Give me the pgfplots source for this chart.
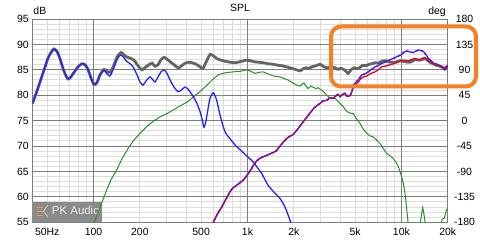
\documentclass[border=0pt]{standalone}
\usepackage{fontspec}
\setmainfont{Liberation Sans}
\usepackage{pgfplots}
\usepackage{pgfplotstable}
\pgfplotsset{compat=1.18}
\definecolor{gmaj}{RGB}{125,125,125}
\definecolor{gmin}{RGB}{220,220,220}
\definecolor{sumgray}{RGB}{100,100,100}
\definecolor{wblue}{RGB}{35,35,250}
\definecolor{tgreen}{RGB}{40,145,40}
\definecolor{pred}{RGB}{230,0,40}
\definecolor{pblue}{RGB}{40,40,235}
\definecolor{ppurple}{RGB}{95,30,210}
\definecolor{annor}{RGB}{245,128,38}

\pgfplotstableread{
f db
40.1 78.4
42.3 80.3
44.9 82.6
47.7 85.0
50.6 87.3
52.9 88.4
55.3 89.1
57.9 88.6
60.5 87.2
63.3 85.3
66.2 83.8
68.3 83.2
70.3 83.4
74.7 84.5
79.3 85.6
84.1 86.2
88.0 86.0
92.0 85.1
96.3 83.4
100.7 82.1
105.3 82.5
110.1 84.0
116.9 85.1
122.3 84.7
127.9 84.5
133.8 85.5
142.1 87.5
150.8 88.4
162.5 87.6
172.6 87.3
183.2 86.9
194.5 85.8
206.5 85.0
219.2 85.6
229.3 86.0
239.8 86.3
250.8 85.7
262.3 86.0
274.4 87.0
287.0 87.45
300.2 87.1
314.0 86.6
333.4 86.0
353.9 85.4
370.2 85.7
392.9 86.3
417.1 86.5
436.3 86.4
463.2 86.1
491.7 85.6
514.3 85.3
537.9 86.5
571.1 88.0
597.3 87.8
634.2 87.2
673.3 86.9
714.8 86.7
770.4 86.5
830.3 86.4
894.7 86.6
978.7 86.9
1039 86.8
1103 86.6
1171 86.5
1262 86.4
1360 86.2
1466 86.1
1580 85.9
1677 85.8
1780 85.6
1890 85.4
2037 85.1
2196 84.8
2296 85.2
2402 85.4
2512 85.3
2627 85.6
2789 85.8
2961 86.1
3097 85.7
3288 85.4
3491 85.5
3706 85.4
3877 85.1
4055 85.3
4304 84.9
4502 84.3
4709 85.0
4925 85.4
5151 85.2
5388 85.5
5635 85.9
5894 85.8
6164 86.1
6447 86.2
6743 86.4
7052 86.3
7487 86.7
7949 86.8
8440 86.5
9095 86.5
9801 86.8
10563 86.6
11383 86.5
12266 87.0
13218 86.9
14245 87.2
15350 86.5
16542 86.0
17828 85.7
19212 85.3
20000 85.8
}\sumtab

\pgfplotstableread{
f db
40.1 78.4
42.3 80.3
44.9 82.6
47.7 85.0
50.6 87.3
52.9 88.4
55.3 89.1
57.9 88.6
60.5 87.2
63.3 85.3
66.2 83.8
68.3 83.2
70.3 83.4
74.7 84.5
79.3 85.6
84.1 86.2
88.0 86.0
92.0 85.1
96.3 83.4
100.7 82.1
105.3 82.5
110.1 84.0
116.9 84.9
122.3 84.2
127.9 83.8
133.8 85.0
142.1 87.0
148.6 87.9
155.4 87.6
162.5 86.8
172.6 86.2
180.5 85.6
191.6 84.0
200.4 82.6
209.6 82.0
219.2 82.8
232.7 83.6
243.4 83.0
250.8 82.6
262.3 83.6
274.4 84.6
287.0 85.0
300.2 84.3
314.0 83.0
333.4 81.6
353.9 80.7
370.2 81.0
392.9 81.6
411.0 81.2
429.8 80.4
449.5 79.5
469.0 78.4
491.7 76.8
506.7 75.3
522.0 73.7
537.9 75.0
554.2 77.3
571.1 79.4
600.0 80.5
631.3 79.0
663.3 76.1
714.8 72.8
782.0 71.2
842.8 70.0
894.7 69.3
978.7 68.2
1087 66.9
1171 65.6
1243 64.5
1360 62.3
1511 60.7
1628 59.7
1754 58.0
1890 55.4
1977 53.5
}\wooftab

\pgfplotstableread{
f db
95.0 51.8
101.1 55.0
110.1 57.9
121.8 61.4
129.9 63.4
141.4 65.3
153.1 67.5
168.2 69.6
183.2 71.2
200.4 72.5
216.0 73.5
232.7 74.4
250.8 75.1
270.3 75.75
300.2 76.4
329.9 77.1
364.7 77.9
403.0 78.6
442.9 79.6
491.7 80.7
537.9 81.8
600.0 83.2
653.4 84.1
714.8 84.4
805.8 84.6
894.7 84.7
993.4 85.0
1055 84.7
1120 84.3
1189 84.5
1262 84.6
1360 84.2
1466 83.8
1628 83.6
1728 83.3
1834 83.0
1948 82.5
2090 82.0
2196 81.8
2262 82.2
2331 82.4
2402 81.8
2475 81.3
2588 81.8
2667 81.6
2789 81.3
2873 81.5
2961 81.2
3097 80.8
3273 80.0
3439 79.4
3706 79.4
3877 78.8
3995 78.4
4178 77.8
4415 76.8
4639 76.5
4874 76.4
5075 75.5
5388 74.45
5635 73.4
5956 72.5
6257 72.0
6573 71.8
6845 71.3
7267 70.5
7600 69.6
8033 68.5
8440 68.1
8827 67.6
9329 66.6
9656 65.6
10054 63.9
10328 62.5
10563 60.7
10883 57.0
11130 54.0
11383 48
12829 48
13218 54.5
13518 56.5
13763 57.9
14034 56.5
14352 54.5
14676 48
17828 48
18097 54.5
18400 55.6
19000 55.8
19650 57.5
20000 57.7
}\tweettab

\pgfplotstableread{
f deg
590 -186
600.0 -180
634.2 -166.5
680.4 -153
725.6 -138.6
770.4 -126
805.8 -118.8
851.7 -114.3
894.7 -109.8
940.0 -105.3
978.7 -99
1013 -93.6
1055 -86.4
1092 -79.2
1148 -71.1
1206 -66.6
1268 -63.9
1340 -61.2
1438 -57.6
1533 -54
1628 -45
1710 -37.8
1834 -29.7
1986 -24.3
2131 -14.4
2307 -1.8
2475 9
2707 22.5
2961 30.6
3097 35.1
3273 36
3439 40.5
3613 39.6
3762 44.1
3877 46.8
3995 42.3
4116 45.9
4304 48.6
4435 43.2
4639 44.1
4780 52.2
4874 60.3
5075 64.8
5252 68.4
5469 74.7
5661 77.4
5894 78.3
6100 81
6351 83.7
6743 86.4
7052 90
7453 95.4
7831 96.3
8228 98.1
8696 99.9
9095 101.7
9656 104.4
10297 107.1
10722 107.1
11097 105.3
11554 108
12266 110.25
12829 108
13218 108.45
13825 110.7
14245 111.6
14676 108.9
15350 104.4
16542 99.9
17828 97.2
18646 94.5
19212 92.7
19797 95.4
20000 97.2
}\redtab

\pgfplotstableread{
f deg
590 -186
600.0 -180
634.2 -166.5
680.4 -153
725.6 -138.6
770.4 -126
805.8 -118.8
851.7 -114.3
894.7 -109.8
940.0 -105.3
978.7 -99
1013 -93.6
1055 -86.4
1092 -79.2
1148 -71.1
1206 -66.6
1268 -63.9
1340 -61.2
1438 -57.6
1533 -54
1628 -45
1710 -37.8
1834 -29.7
1986 -24.3
2131 -14.4
2307 -1.8
2475 9
2707 22.5
2961 30.6
3097 35.1
3273 36
3439 40.5
3613 39.6
3762 44.1
3877 46.8
3995 42.3
4116 45.9
4304 48.6
4435 43.2
4639 44.1
4780 52.2
4874 63
5075 68.4
5229 72
5527 81
5806 82.8
6100 86.4
6351 90
6743 95.4
7052 97.2
7376 100.8
7831 103.5
8314 107.1
8866 110.25
9371 113.4
10054 117
10406 121.5
10834 123.3
11383 121.5
11958 120.6
12451 123.3
12887 125.1
13417 124.2
13887 122.4
14459 117
14964 110.25
15581 106.2
16127 101.7
17045 99.9
17828 97.2
18646 92.7
19212 90
19797 94.5
20000 98.1
}\bluetab

\begin{document}
\begin{tikzpicture}
\useasboundingbox (-32.3bp,-23.7bp) rectangle (447.7bp,222.3bp);
\begin{axis}[
  at={(0,0)}, anchor=south west,
  scale only axis, width=415.4bp, height=203.3bp,
  xmode=log, xmin=40, xmax=20000,
  ymin=55, ymax=95,
  xtick={100,1000,10000}, xticklabels={100,1k,10k},
  extra x ticks={50,200,500,2000,5000,20000},
  extra x tick labels={50Hz,200,500,2k,5k,20k},
  extra x tick style={grid=none},
  minor xtick={40,50,60,70,80,90,200,300,400,500,600,700,800,900,2000,3000,4000,5000,6000,7000,8000,9000},
  ytick={55,60,...,95}, minor y tick num=4,
  xminorgrids=true, xmajorgrids=false,
  yminorgrids=true, ymajorgrids=true,
  major grid style={draw=gmaj, line width=0.9bp},
  minor grid style={draw=gmin, line width=1bp},
  axis line style={draw=gmaj, line width=0.9bp},
  major tick length=0pt, minor tick length=0pt,
  tick label style={font=\fontsize{10.5}{12}\selectfont, text=black},
  /pgf/number format/assume math mode=true,
  xticklabel style={yshift=-2.5bp},
  clip mode=individual,
]
\draw[gmaj, line width=0.9bp] (axis cs:100,55) -- (axis cs:100,95);
\draw[gmaj, line width=0.9bp] (axis cs:1000,55) -- (axis cs:1000,95);
\draw[gmaj, line width=0.9bp] (axis cs:10000,55) -- (axis cs:10000,95);
\fill[fill={rgb,255:red,138;green,138;blue,138}] (rel axis cs:0,0) rectangle (rel axis cs:0.167,0.1);
\draw[line width=1bp, annor!80!white] (rel axis cs:0.011,0.075) -- (rel axis cs:0.025,0.075);
\draw[line width=1bp, annor!80!white] (rel axis cs:0.011,0.055) -- (rel axis cs:0.025,0.055);
\draw[line width=1bp, annor!80!white] (rel axis cs:0.011,0.035) -- (rel axis cs:0.025,0.035);
\draw[line width=0.8bp, gray!40] (rel axis cs:0.038,0.085) -- (rel axis cs:0.027,0.055) -- (rel axis cs:0.038,0.025);
\node[anchor=base west, inner sep=0pt, text={rgb,255:red,238;green,238;blue,238}, font=\fontsize{11.5}{13}\selectfont] at (rel axis cs:0.0467,0.036) {PK Audio};
\addplot[sumgray, line width=2.8bp, smooth, tension=0.4] table[x=f, y=db] {\sumtab};
\addplot[tgreen, line width=1bp] table[x=f, y=db] {\tweettab};
\addplot[wblue, line width=1.3bp, smooth, tension=0.4] table[x=f, y=db] {\wooftab};
\end{axis}
\begin{axis}[
  at={(0,0)}, anchor=south west,
  scale only axis, width=415.4bp, height=203.3bp,
  xmode=log, xmin=40, xmax=20000,
  ymin=-180, ymax=180,
  axis x line=none, axis y line*=right,
  y axis line style={draw=none},
  ytick={-180,-135,...,180},
  major tick length=0pt,
  yticklabel style={anchor=center, xshift=16.8bp, font=\fontsize{10.5}{12}\selectfont, text=black},
  /pgf/number format/assume math mode=true,
]
\addplot[ppurple, line width=1.3bp] table[x=f, y=deg] {\bluetab};
\addplot[pred, line width=1.3bp] table[x=f, y=deg] {\redtab};
\addplot[pblue, line width=1.3bp, dash pattern=on 2.5bp off 2.5bp] table[x=f, y=deg] {\bluetab};
\end{axis}
\node[anchor=base west, inner sep=0pt, font=\fontsize{10.5}{12}\selectfont] at (1bp,207.3bp) {dB};
\node[anchor=base, inner sep=0pt, font=\fontsize{10.5}{12}\selectfont] at (207.7bp,210.8bp) {SPL};
\node[anchor=base east, inner sep=0pt, font=\fontsize{10.5}{12}\selectfont] at (413.7bp,207.5bp) {deg};
\draw[annor, line width=4bp, rounded corners=10bp] (298.7bp,135.8bp) rectangle (443.7bp,195.8bp);
\end{tikzpicture}
\end{document}
